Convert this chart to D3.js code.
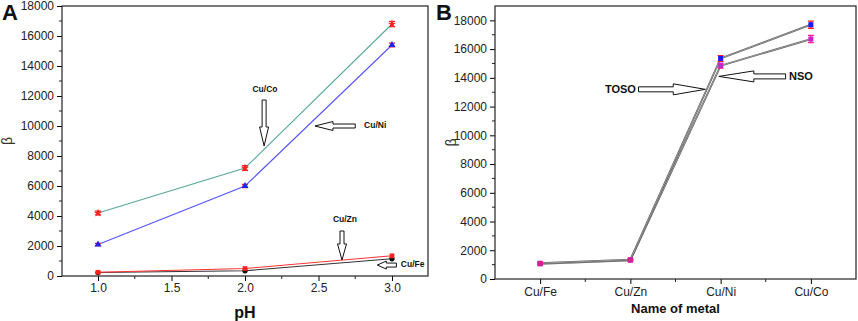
<!DOCTYPE html>
<html>
<head>
<meta charset="utf-8">
<script src="https://cdn.jsdelivr.net/npm/d3@7"></script>
<style>
  body { margin: 0; background: #fff; }
  svg { font-family: 'Liberation Sans', Arial, sans-serif; }
</style>
</head>
<body>
<div id="chart"></div>
<script>
// Panel A data: beta vs pH
const phValues = [1.0, 2.0, 3.0];
const cuCoA = [4200, 7200, 16800];
const cuNiA = [2100, 6000, 15400];
const cuZnA = [250, 500, 1350];
const cuFeA = [230, 350, 1150];
const errCoA = [120, 150, 180];
const errNiA = [80, 100, 120];
const phTicks = [1.0, 1.5, 2.0, 2.5, 3.0];

// Panel B data: beta by metal
const metals = ['Cu/Fe', 'Cu/Zn', 'Cu/Ni', 'Cu/Co'];
const tosoB = [1100, 1350, 15350, 17700];
const nsoB = [1050, 1300, 14850, 16700];
const errTosoB = [60, 60, 200, 250];
const errNsoB = [60, 60, 180, 250];
const yTicks = [0, 2000, 4000, 6000, 8000, 10000, 12000, 14000, 16000, 18000];

const W = 858, H = 321;
const svg = d3.select('#chart').append('svg').attr('width', W).attr('height', H);

// hollow arrow from (x1,y1) to tip (x2,y2)
function arrow(g, x1, y1, x2, y2, shaft, head, headLen) {
  const len = Math.hypot(x2 - x1, y2 - y1);
  const ang = Math.atan2(y2 - y1, x2 - x1) * 180 / Math.PI;
  const s = shaft / 2, h = head / 2, b = len - headLen;
  const pts = [[0, -s], [b, -s], [b, -h], [len, 0], [b, h], [b, s], [0, s]];
  g.append('polygon')
    .attr('points', pts.map((p) => p.join(',')).join(' '))
    .attr('transform', `translate(${x1},${y1}) rotate(${ang})`)
    .attr('fill', '#fff')
    .attr('stroke', '#111')
    .attr('stroke-width', 1);
}

function frame(g, left, right, top, bottom) {
  g.append('rect')
    .attr('x', left).attr('y', top)
    .attr('width', right - left).attr('height', bottom - top)
    .attr('fill', 'none').attr('stroke', '#222').attr('stroke-width', 1.2);
}

function yAxis(g, y, left, minorTop) {
  const ax = g.append('g').attr('transform', `translate(${left},0)`);
  ax.call(d3.axisLeft(y).tickValues(yTicks).tickSize(5).tickFormat(d3.format('d')))
    .call((a) => a.select('.domain').remove())
    .call((a) => a.selectAll('.tick text').attr('font-size', 12).attr('fill', '#222')
      .attr('font-family', 'Liberation Sans, Arial, sans-serif'));
  const minor = d3.range(1000, minorTop, 2000);
  ax.selectAll('.minor').data(minor).join('line')
    .attr('x1', -3).attr('x2', 0)
    .attr('y1', (d) => y(d)).attr('y2', (d) => y(d))
    .attr('stroke', '#222');
}

// ---------- Panel A ----------
{
  const L = 62, R = 428, T = 6, B = 276;
  const g = svg.append('g');
  const x = d3.scaleLinear().domain([0.755, 3.245]).range([L, R]);
  const y = d3.scaleLinear().domain([0, 18000]).range([B, T]);

  yAxis(g, y, L, 18000);

  const xa = g.append('g').attr('transform', `translate(0,${B})`);
  xa.call(d3.axisBottom(x).tickValues(phTicks).tickSize(5).tickFormat(d3.format('.1f')))
    .call((a) => a.select('.domain').remove())
    .call((a) => a.selectAll('.tick text').attr('font-size', 12).attr('fill', '#222')
      .attr('dy', '0.7em').attr('font-family', 'Liberation Sans, Arial, sans-serif'));
  xa.selectAll('.minor').data([1.25, 1.75, 2.25, 2.75]).join('line')
    .attr('x1', (d) => x(d)).attr('x2', (d) => x(d))
    .attr('y1', 0).attr('y2', 3).attr('stroke', '#222');

  frame(g, L, R, T, B);

  const series = [
    { v: cuFeA, line: '#333', mark: '#111', err: null, shape: d3.symbolCircle },
    { v: cuZnA, line: '#ff3333', mark: '#ff2020', err: null, shape: d3.symbolSquare },
    { v: cuNiA, line: '#5555ff', mark: '#2222ee', err: errNiA, shape: d3.symbolTriangle },
    { v: cuCoA, line: '#5aa89c', mark: '#ff2020', err: errCoA, shape: d3.symbolStar }
  ];
  const line = d3.line().x((d, i) => x(phValues[i])).y((d) => y(d));
  series.forEach((s) => {
    g.append('path').attr('d', line(s.v)).attr('fill', 'none')
      .attr('stroke', s.line).attr('stroke-width', 1.1);
    if (s.err) {
      s.v.forEach((v, i) => {
        const cx = x(phValues[i]);
        g.append('path')
          .attr('d', `M${cx - 3},${y(v + s.err[i])}H${cx + 3}M${cx},${y(v + s.err[i])}V${y(v - s.err[i])}M${cx - 3},${y(v - s.err[i])}H${cx + 3}`)
          .attr('stroke', '#ff2020').attr('stroke-width', 1.3).attr('fill', 'none');
      });
    }
    g.selectAll(null).data(s.v).join('path')
      .attr('d', d3.symbol().type(s.shape).size(22))
      .attr('transform', (d, i) => `translate(${x(phValues[i])},${y(d)})`)
      .attr('fill', s.mark);
  });

  // annotations
  const ann = g.append('g').attr('font-size', 8.5).attr('font-weight', 'bold').attr('fill', '#111');
  ann.append('text').attr('x', x(2.136)).attr('y', y(12267)).attr('text-anchor', 'middle').text('Cu/Co');
  arrow(ann, x(2.13), y(11733), x(2.13), y(8667), 4, 9, 19);
  ann.append('text').attr('x', x(2.81)).attr('y', y(9870)).text('Cu/Ni');
  arrow(ann, x(2.75), y(10000), x(2.476), y(10000), 4, 9, 18);
  ann.append('text').attr('x', x(2.68)).attr('y', y(3600)).attr('text-anchor', 'middle').text('Cu/Zn');
  arrow(ann, x(2.66), y(3000), x(2.66), y(1070), 4, 9, 16);
  ann.append('text').attr('x', x(3.06)).attr('y', y(600)).text('Cu/Fe');
  arrow(ann, x(3.03), y(730), x(2.9), y(730), 4, 8, 9);

  svg.append('text').attr('x', 2).attr('y', 20).attr('font-size', 22).attr('font-weight', 'bold')
    .attr('fill', '#111').text('A');
  svg.append('text').attr('transform', `translate(12,${(T + B) / 2}) rotate(-90)`)
    .attr('text-anchor', 'middle').attr('font-size', 14).attr('fill', '#333').text('β');
  svg.append('text').attr('x', x(2.0)).attr('y', 318).attr('text-anchor', 'middle')
    .attr('font-size', 16).attr('font-weight', 'bold').attr('fill', '#111').text('pH');
}

// ---------- Panel B ----------
{
  const L = 495, R = 856, T = 6, B = 279;
  const g = svg.append('g');
  const x = d3.scalePoint().domain(metals).range([L, R]).padding(0.5);
  const xi = d3.scaleLinear().domain([-0.5, metals.length - 0.5]).range([L, R]);
  const y = d3.scaleLinear().domain([0, 19000]).range([B, T]);

  yAxis(g, y, L, 19000);

  const xa = g.append('g').attr('transform', `translate(0,${B})`);
  xa.call(d3.axisBottom(x).tickSize(5))
    .call((a) => a.select('.domain').remove())
    .call((a) => a.selectAll('.tick text').attr('font-size', 12).attr('fill', '#222')
      .attr('dy', '0.75em').attr('font-family', 'Liberation Sans, Arial, sans-serif'));
  xa.selectAll('.minor').data([0.5, 1.5, 2.5]).join('line')
    .attr('x1', (d) => xi(d)).attr('x2', (d) => xi(d))
    .attr('y1', 0).attr('y2', 3).attr('stroke', '#222');

  frame(g, L, R, T, B);

  const line = d3.line().x((d, i) => x(metals[i])).y((d) => y(d));
  const series = [
    { v: nsoB, err: errNsoB, errColor: '#ff2090', mark: '#cc22cc' },
    { v: tosoB, err: errTosoB, errColor: '#ff2020', mark: '#1a1aff' }
  ];
  series.forEach((s) => {
    g.append('path').attr('d', line(s.v)).attr('fill', 'none')
      .attr('stroke', '#555').attr('stroke-width', 1.8);
    g.append('path').attr('d', line(s.v)).attr('fill', 'none')
      .attr('stroke', '#ddd').attr('stroke-width', 0.5);
  });
  series.forEach((s) => {
    s.v.forEach((v, i) => {
      const cx = x(metals[i]);
      g.append('path')
        .attr('d', `M${cx - 3},${y(v + s.err[i])}H${cx + 3}M${cx},${y(v + s.err[i])}V${y(v - s.err[i])}M${cx - 3},${y(v - s.err[i])}H${cx + 3}`)
        .attr('stroke', i < 2 ? '#ff2a8a' : s.errColor).attr('stroke-width', 1.3).attr('fill', 'none');
    });
    g.selectAll(null).data(s.v).join('rect')
      .attr('x', (d, i) => x(metals[i]) - 2.5).attr('y', (d) => y(d) - 2.5)
      .attr('width', 5).attr('height', 5)
      .attr('fill', (d, i) => (i < 2 ? '#d0209a' : s.mark));
  });

  const ann = g.append('g').attr('font-size', 11).attr('font-weight', 'bold').attr('fill', '#111');
  ann.append('text').attr('x', xi(0.89)).attr('y', y(13200)).attr('dy', '0.35em')
    .attr('text-anchor', 'middle').text('TOSO');
  arrow(ann, xi(1.09), y(13200), xi(1.83), y(13200), 5, 11, 32);
  ann.append('text').attr('x', xi(2.89)).attr('y', y(14100)).attr('dy', '0.35em')
    .attr('text-anchor', 'middle').text('NSO');
  arrow(ann, xi(2.72), y(14100), xi(1.98), y(14100), 5, 11, 35);

  svg.append('text').attr('x', 436).attr('y', 20).attr('font-size', 22).attr('font-weight', 'bold')
    .attr('fill', '#111').text('B');
  svg.append('text').attr('transform', `translate(456,${(T + B) / 2}) rotate(-90)`)
    .attr('text-anchor', 'middle').attr('font-size', 14).attr('fill', '#333').text('β');
  svg.append('text').attr('x', (L + R) / 2).attr('y', 313).attr('text-anchor', 'middle')
    .attr('font-size', 13).attr('font-weight', 'bold').attr('fill', '#111').text('Name of metal');
}
</script>
</body>
</html>
